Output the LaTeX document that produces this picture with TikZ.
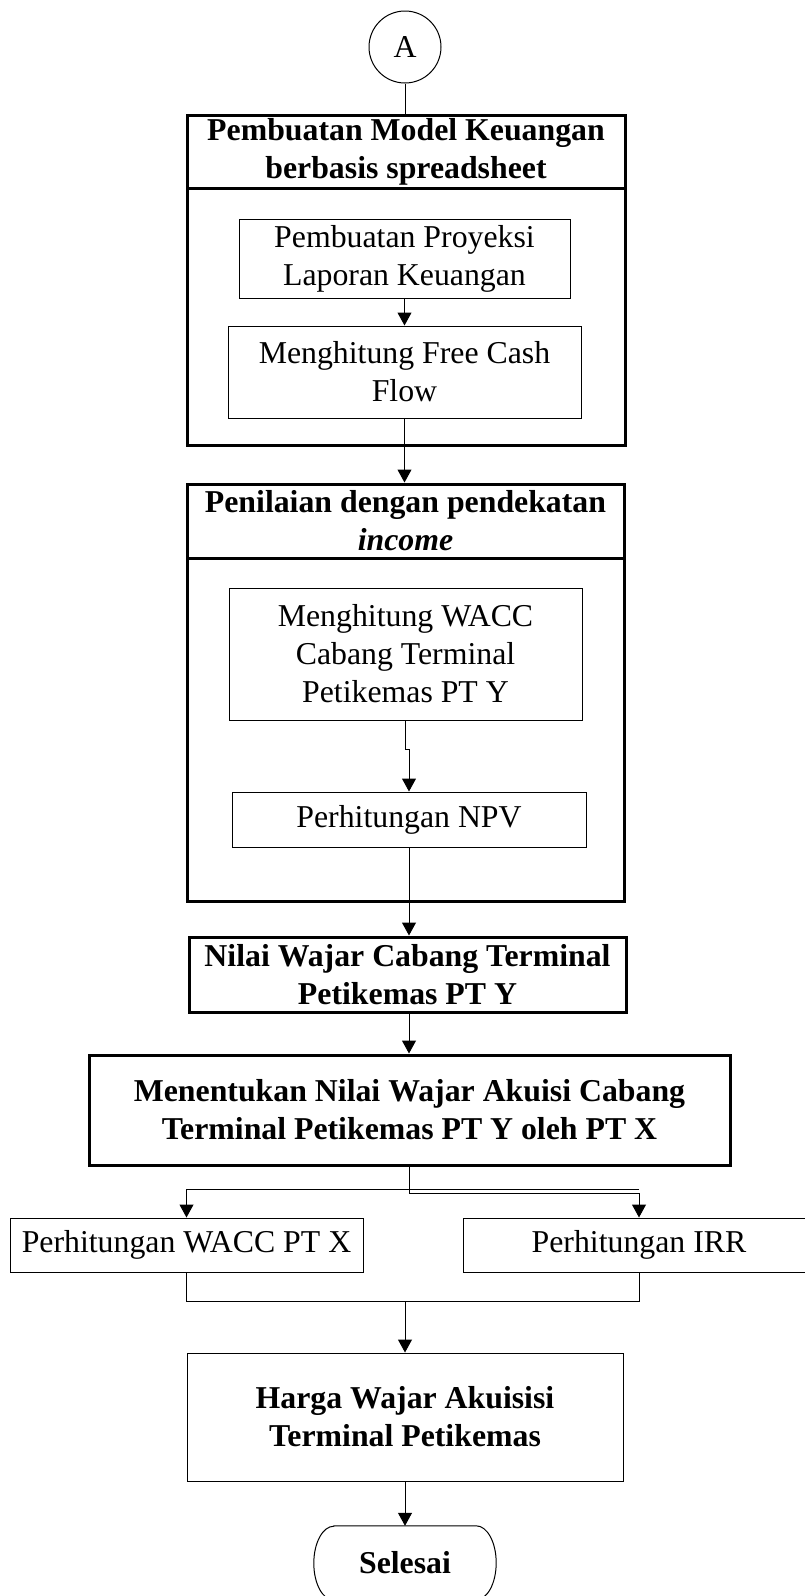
\documentclass[tikz,border=0pt]{standalone}
\usepackage{fontspec}
\setmainfont{Liberation Serif}
\usetikzlibrary{arrows.meta}
\begin{document}
\begin{tikzpicture}[x=1pt,y=1pt,
  txt/.style={font=\fontsize{31.8}{38}\selectfont, align=center, inner sep=0pt},
  thinbox/.style={txt, draw, line width=1pt, rectangle},
  thickbox/.style={txt, draw, line width=3pt, rectangle},
  conn/.style={line width=1pt},
  arr/.style={line width=1pt, -{Triangle[length=13pt,width=14pt]}}
]
\useasboundingbox (0,0) rectangle (805,-1596);

% start connector
\node[txt, draw, circle, line width=1pt, minimum size=72pt] (A) at (405,-47) {A};

% group 1
\node[thickbox, minimum width=438pt, minimum height=257pt] (b1) at (406,-316.5) {};
\node[thickbox, minimum width=438pt, minimum height=73pt] (h1) at (406,-151.5) {\textbf{Pembuatan Model Keuangan}\\\textbf{berbasis spreadsheet}};
\node[thinbox, minimum width=331pt, minimum height=79pt] (p1) at (404.5,-258.5) {Pembuatan Proyeksi\\Laporan Keuangan};
\node[thinbox, minimum width=353pt, minimum height=92pt] (p2) at (404.5,-372) {Menghitung Free Cash\\Flow};

% group 2
\node[thickbox, minimum width=437pt, minimum height=343pt] (b2) at (405.5,-729.5) {};
\node[thickbox, minimum width=437pt, minimum height=74pt] (h2) at (405.5,-521) {\textbf{Penilaian dengan pendekatan}\\\textbf{\textit{income}}};
\node[thinbox, minimum width=353pt, minimum height=132pt] (p3) at (405.5,-654) {Menghitung WACC\\Cabang Terminal\\Petikemas PT Y};
\node[thinbox, minimum width=354pt, minimum height=55pt] (p4) at (409,-819.5) {Perhitungan NPV};

% lower part
\node[thickbox, minimum width=437pt, minimum height=75pt] (nilai) at (407.5,-974.5) {\textbf{Nilai Wajar Cabang Terminal}\\\textbf{Petikemas PT Y}};
\node[thickbox, minimum width=641pt, minimum height=110pt] (men) at (409.5,-1110) {\textbf{Menentukan Nilai Wajar Akuisi Cabang}\\\textbf{Terminal Petikemas PT Y oleh PT X}};
\node[thinbox, minimum width=353pt, minimum height=54pt] (wx) at (186.5,-1245) {Perhitungan WACC PT X};
\node[thinbox, minimum width=352pt, minimum height=54pt] (irr) at (639,-1245) {Perhitungan IRR};
\node[thinbox, minimum width=436pt, minimum height=128pt] (harga) at (405,-1417) {\textbf{Harga Wajar Akuisisi}\\\textbf{Terminal Petikemas}};
\node[txt, minimum width=182pt, minimum height=74pt] (sel) at (405,-1563) {\textbf{Selesai}};
\draw[line width=1pt] ([xshift=20pt]sel.north west) -- ([xshift=-20pt]sel.north east)
  arc[start angle=90, end angle=-90, x radius=20pt, y radius=37pt]
  -- ([xshift=20pt]sel.south west)
  arc[start angle=270, end angle=90, x radius=20pt, y radius=37pt] -- cycle;

% connectors
\draw[conn] (A.south) -- (A.south |- h1.north);
\draw[arr] (p1.south) -- (p1.south |- p2.north);
\draw[arr] (p2.south) -- (p2.south |- h2.north);
\draw[arr] (p3.south) -- ++(0,-29) -| (p4.north);
\draw[arr] (p4.south) -- (p4.south |- nilai.north);
\draw[arr] (p4.south |- nilai.south) -- (p4.south |- men.north);
\draw[arr] (men.south) -- ++(0,-27) -| (irr.north);
\coordinate (lb) at (irr.north |- 0,-1189);
\draw[arr] (lb) -| (wx.north);
\draw[conn] (wx.south) -- ++(0,-29) -| (irr.south);
\coordinate (mg) at (harga.north |- 0,-1301);
\draw[arr] (mg) -- (harga.north);
\draw[arr] (harga.south) -- (sel.north);
\end{tikzpicture}
\end{document}
